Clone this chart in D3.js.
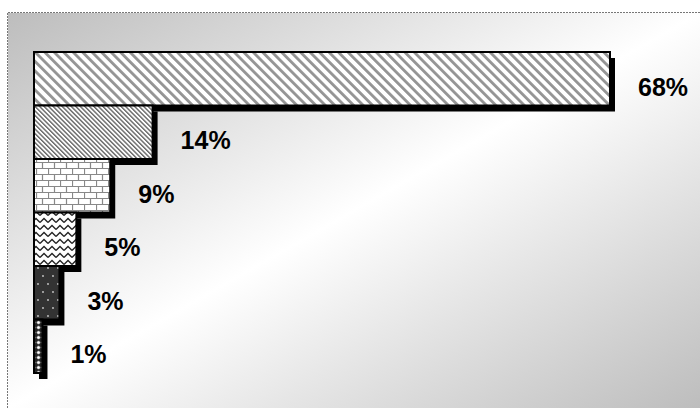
<!DOCTYPE html>
<html>
<head>
<meta charset="utf-8">
<script src="https://cdn.jsdelivr.net/npm/d3@7"></script>
<style>
  body { margin: 0; background: #fff; }
  svg { display: block; }
</style>
</head>
<body>
<div id="chart"></div>
<script>
// sets the frame up
const FRAME_WIDTH = 700;
const FRAME_HEIGHT = 408;
const PLOT = {left: 8, top: 13};

// chart data
const CATEGORIES = ["a", "b", "c", "d", "e", "f"];
const VALUES = [68, 14, 9, 5, 3, 1];
const LABELS = ["68%", "14%", "9%", "5%", "3%", "1%"];
const PATTERNS = ["wide", "dense", "brick", "zigzag", "dots", "beads"];

const FRAME = d3.select("#chart")
                .append("svg")
                  .attr("width", FRAME_WIDTH)
                  .attr("height", FRAME_HEIGHT);

const defs = FRAME.append("defs");

// background gradient: gray corners, white middle
const grad = defs.append("linearGradient")
                 .attr("id", "bg")
                 .attr("x1", 0).attr("y1", 0)
                 .attr("x2", 1).attr("y2", 1);
grad.append("stop").attr("offset", 0).attr("stop-color", "#bdbdbd");
grad.append("stop").attr("offset", 0.5).attr("stop-color", "#ffffff");
grad.append("stop").attr("offset", 1).attr("stop-color", "#bdbdbd");

// fill patterns
function addPattern(id, w, h, transform) {
    const p = defs.append("pattern")
                  .attr("id", id)
                  .attr("patternUnits", "userSpaceOnUse")
                  .attr("width", w)
                  .attr("height", h);
    if (transform) p.attr("patternTransform", transform);
    return p;
}

// wide diagonal stripes
let p = addPattern("wide", 6.7, 6.7, "rotate(-45)");
p.append("rect").attr("width", 6.7).attr("height", 6.7).attr("fill", "#fff");
p.append("rect").attr("width", 2.8).attr("height", 6.7).attr("fill", "#949494");

// dense diagonal stripes
p = addPattern("dense", 3.2, 3.2, "rotate(-45)");
p.append("rect").attr("width", 3.2).attr("height", 3.2).attr("fill", "#fff");
p.append("rect").attr("width", 1.4).attr("height", 3.2).attr("fill", "#666");

// bricks
p = addPattern("brick", 12, 12);
p.append("rect").attr("width", 12).attr("height", 12).attr("fill", "#fff");
p.append("path")
  .attr("d", "M0,0.5H12M0,6.5H12M0.5,0V6M6.5,6V12")
  .attr("stroke", "#888").attr("stroke-width", 1.2).attr("fill", "none");

// zigzag
p = addPattern("zigzag", 8, 7);
p.append("rect").attr("width", 8).attr("height", 7).attr("fill", "#fff");
p.append("path")
  .attr("d", "M0,5.5L4,1.5L8,5.5")
  .attr("stroke", "#222").attr("stroke-width", 1.3).attr("fill", "none");

// dark with light dots
p = addPattern("dots", 10, 16);
p.append("rect").attr("width", 10).attr("height", 16).attr("fill", "#333");
p.append("circle").attr("cx", 3).attr("cy", 4).attr("r", 0.9).attr("fill", "#ccc");
p.append("circle").attr("cx", 8).attr("cy", 12).attr("r", 0.9).attr("fill", "#ccc");

// small beads
p = addPattern("beads", 5, 5, "translate(36,0)");
p.append("rect").attr("width", 5).attr("height", 5).attr("fill", "#222");
p.append("circle").attr("cx", 2.5).attr("cy", 2.5).attr("r", 1.6)
  .attr("fill", "#fff").attr("stroke", "#999").attr("stroke-width", 0.6);

// plot area
FRAME.append("rect")
      .attr("x", PLOT.left)
      .attr("y", PLOT.top)
      .attr("width", FRAME_WIDTH - PLOT.left)
      .attr("height", FRAME_HEIGHT - PLOT.top)
      .attr("fill", "url(#bg)");

// dotted border on top and left
FRAME.append("path")
      .attr("d", "M" + (PLOT.left - 0.5) + "," + FRAME_HEIGHT + "V" + (PLOT.top - 0.5) + "H" + FRAME_WIDTH)
      .attr("stroke", "#777")
      .attr("stroke-width", 1)
      .attr("stroke-dasharray", "2,1")
      .attr("fill", "none");

// scales
const X_SCALE = d3.scaleLinear()
                  .domain([0, 68])
                  .range([34, 610]);
const Y_SCALE = d3.scaleBand()
                  .domain(CATEGORIES)
                  .range([52, 373])
                  .padding(0);

const data = CATEGORIES.map((c, i) => ({cat: c, value: VALUES[i], label: LABELS[i], pat: PATTERNS[i]}));

// shadows first
FRAME.selectAll(".shadow")
      .data(data)
      .enter()
      .append("rect")
        .attr("class", "shadow")
        .attr("x", X_SCALE(0) + 5)
        .attr("y", (d) => Y_SCALE(d.cat) + 6)
        .attr("width", (d) => X_SCALE(d.value) - X_SCALE(0))
        .attr("height", Y_SCALE.bandwidth())
        .attr("fill", "#000");

// bars
FRAME.selectAll(".bar")
      .data(data)
      .enter()
      .append("rect")
        .attr("class", "bar")
        .attr("x", X_SCALE(0))
        .attr("y", (d) => Y_SCALE(d.cat))
        .attr("width", (d) => X_SCALE(d.value) - X_SCALE(0))
        .attr("height", Y_SCALE.bandwidth())
        .attr("fill", (d) => "url(#" + d.pat + ")")
        .attr("stroke", "#000")
        .attr("stroke-width", 2);

// value labels
FRAME.selectAll(".label")
      .data(data)
      .enter()
      .append("text")
        .attr("class", "label")
        .attr("x", (d) => X_SCALE(d.value) + 28)
        .attr("y", (d) => Y_SCALE(d.cat) + Y_SCALE.bandwidth() / 2 + 17)
        .attr("font-family", "Arial, 'Liberation Sans', sans-serif")
        .attr("font-weight", "bold")
        .attr("font-size", "25px")
        .attr("fill", "#000")
        .text((d) => d.label);
</script>
</body>
</html>
